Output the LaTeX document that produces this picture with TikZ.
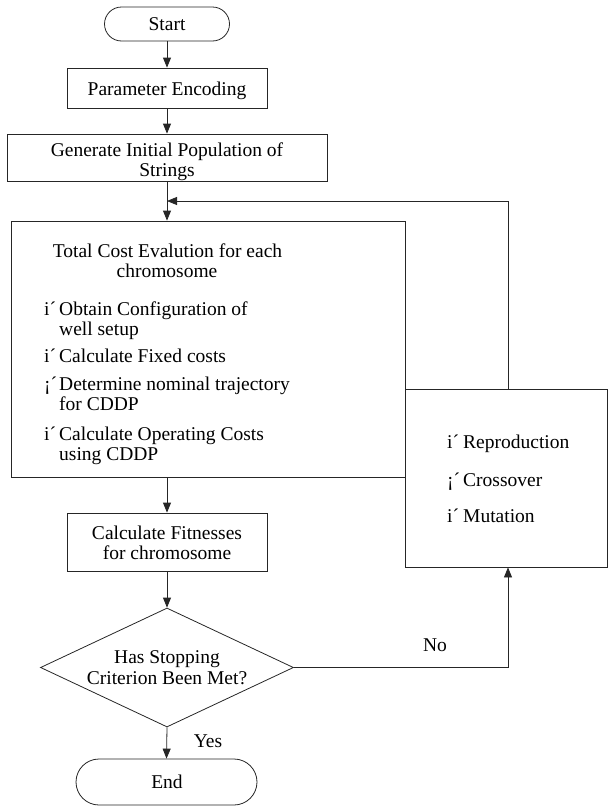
\documentclass[tikz,border=0pt]{standalone}
\usepackage{fontspec}
\setmainfont{Liberation Serif}
\usetikzlibrary{shapes.geometric,shapes.misc,arrows.meta,calc}
\begin{document}
\begin{tikzpicture}[x=1pt,y=-1pt,
  every node/.style={font=\fontsize{19.5}{20}\selectfont},
  boxnode/.style={draw=black!85,line width=0.8pt,rectangle,inner sep=0pt},
  termnode/.style={draw=black!85,line width=0.8pt,rounded rectangle,inner sep=0pt},
  decnode/.style={draw=black!85,line width=0.8pt,diamond,inner sep=0pt},
  txt/.style={inner sep=0pt,anchor=base},
  txtl/.style={inner sep=0pt,anchor=base west},
  arr/.style={draw=black!85,line width=0.8pt,-{Triangle[length=10pt,width=8pt]}},
  ln/.style={draw=black!85,line width=0.8pt}]
\useasboundingbox (0,0) rectangle (608,806);

% shapes
\node[termnode,minimum width=125pt,minimum height=34pt] (start) at (167,24) {};
\node[boxnode,minimum width=200pt,minimum height=40pt] (param) at (167,88) {};
\node[boxnode,minimum width=320pt,minimum height=47pt] (gen) at (167,157.5) {};
\node[boxnode,minimum width=394pt,minimum height=256pt] (total) at (208,349) {};
\node[boxnode,minimum width=200pt,minimum height=58pt] (fit) at (167,542) {};
\node[decnode,minimum width=253pt,minimum height=119pt] (dec) at (167,667.5) {};
\node[termnode,minimum width=181pt,minimum height=46pt] (end) at (166.5,782) {};
\node[boxnode,minimum width=202pt,minimum height=178pt] (right) at (506,478) {};

% texts
\node[txt] (tstart) at (167,30.5) {Start};
\node[txt] (tparam) at (167,95) {Parameter Encoding};
\node[txt] (tgen1) at (167,156) {Generate Initial Population of};
\node[txt] (tgen2) at (167,176) {Strings};
\node[txt] (ttot1) at (167.5,257) {Total Cost Evalution for each};
\node[txt] (ttot2) at (167,277) {chromosome};
\node[txtl] (b1) at (44,315) {i´};
\node[txtl] (l1a) at (59,315) {Obtain Configuration of};
\node[txtl] (l1b) at (59,335) {well setup};
\node[txtl] (b2) at (44,362) {i´};
\node[txtl] (l2) at (59,362) {Calculate Fixed costs};
\node[txtl] (b3) at (44,390) {¡´};
\node[txtl] (l3a) at (59,390) {Determine nominal trajectory};
\node[txtl] (l3b) at (59,410) {for CDDP};
\node[txtl] (b4) at (44,440) {i´};
\node[txtl] (l4a) at (59,440) {Calculate Operating Costs};
\node[txtl] (l4b) at (59,460) {using CDDP};
\node[txt] (tfit1) at (167,539) {Calculate Fitnesses};
\node[txt] (tfit2) at (167,559) {for chromosome};
\node[txt] (tdec1) at (167,663) {Has Stopping};
\node[txt] (tdec2) at (167,684) {Criterion Been Met?};
\node[txt] (tyes) at (208,747) {Yes};
\node[txt] (tno) at (435,651) {No};
\node[txt] (tend) at (167,788) {End};
\node[txtl] (rb1) at (447,448) {i´};
\node[txtl] (r1) at (463,448) {Reproduction};
\node[txtl] (rb2) at (447,486) {¡´};
\node[txtl] (r2) at (463,486) {Crossover};
\node[txtl] (rb3) at (447,522) {i´};
\node[txtl] (r3) at (463,522) {Mutation};

% connectors
\coordinate (fbx) at (508,0);
\coordinate (fbin) at (167,201);
\draw[arr] (start.south) -- (param.north);
\draw[arr] (param.south) -- (gen.north);
\draw[arr] (gen.south) -- (gen.south |- total.north);
\draw[arr] (right.north -| fbx) |- (fbin);
\draw[arr] (fit.north |- total.south) -- (fit.north);
\draw[arr] (fit.south) -- (dec.north);
\draw[arr] (dec.south) -- (end.north);
\draw[arr] (dec.east) -| (right.south -| fbx);
\end{tikzpicture}
\end{document}
